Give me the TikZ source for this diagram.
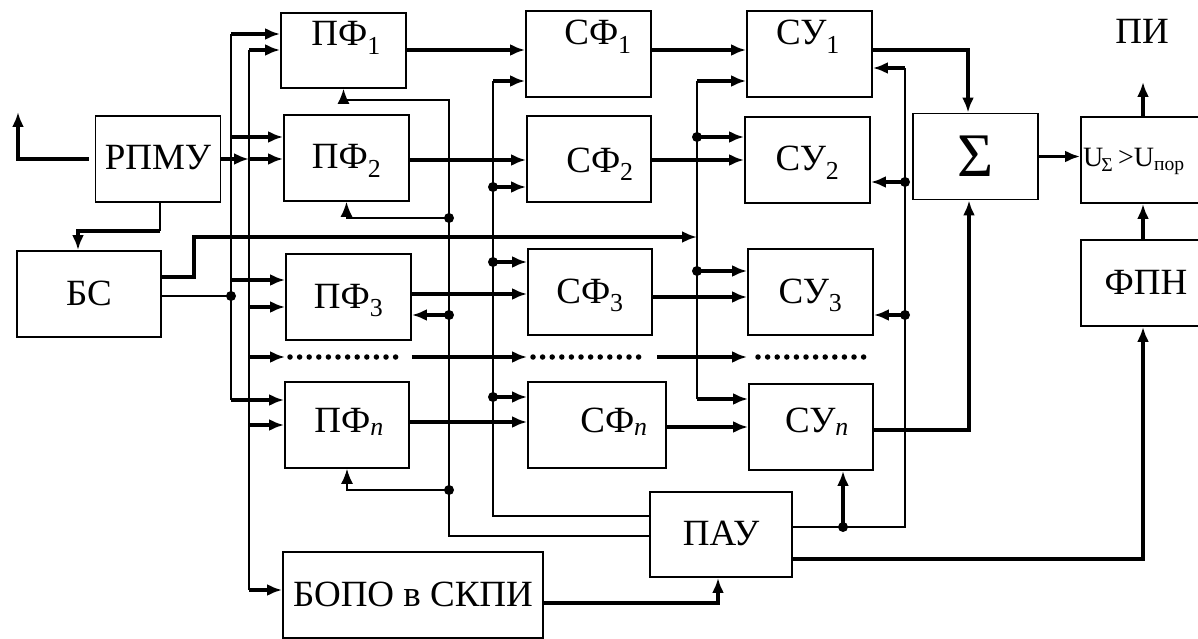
\documentclass[tikz,border=0pt]{standalone}
\usepackage{fontspec}
\setmainfont{Liberation Serif}
\usetikzlibrary{arrows.meta}

\tikzset{
  blk/.style={draw, line width=1.9pt, minimum width=#1, minimum height=86pt, inner sep=0pt},
  blk/.default=125pt,
  sig/.style={line width=1.4pt},
  pwr/.style={line width=3.2pt},
  dots/.style={line width=5.5pt, line cap=round, dash pattern=on 0pt off 9.6pt},
}

\begin{document}
\begin{tikzpicture}[x=1pt, y=-1pt, >={Latex[length=15pt,width=12pt]},
    font=\fontsize{37}{40}\selectfont,
    every node/.append style={text height=22pt, text depth=0pt}]
  \useasboundingbox (0,0) rectangle (1198,639);
  \clip (0,0) rectangle (1198,639);

  % blocks
  \node[blk] (rpmu) at (158,159) {РПМУ};
  \node[blk=144pt] (bs) at (89,294) {БС};
  \node[blk, minimum height=75pt] (pf1) at (343.5,50.5) {};
  \node (pf1t) at (346,35) {ПФ\textsubscript{1}};
  \node[blk] (pf2) at (346.5,158) {ПФ\textsubscript{2}};
  \node[blk] (pf3) at (348.5,297) {ПФ\textsubscript{3}};
  \node[blk=124pt] (pfn) at (347,425) {};
  \node (pfnt) at (349,421) {ПФ\textsubscript{\itshape n}};
  \node[blk] (sf1) at (588.5,54) {};
  \node (sf1t) at (598,34) {СФ\textsubscript{1}};
  \node[blk=124pt] (sf2) at (589,159) {};
  \node (sf2t) at (600,161) {СФ\textsubscript{2}};
  \node[blk=124pt] (sf3) at (590,292) {СФ\textsubscript{3}};
  \node[blk=138pt] (sfn) at (597,425) {};
  \node (sfnt) at (614,421) {СФ\textsubscript{\itshape n}};
  \node[blk] (su1) at (809.5,54) {};
  \node (su1t) at (808,34) {СУ\textsubscript{1}};
  \node[blk] (su2) at (807.5,160) {СУ\textsubscript{2}};
  \node[blk] (su3) at (810.5,292) {СУ\textsubscript{3}};
  \node[blk=124pt] (sun) at (811,427) {};
  \node (sunt) at (817,421) {СУ\textsubscript{\itshape n}};
  \node[blk, font=\fontsize{62}{62}\selectfont, text height=41pt] (sum) at (975.5,156.5) {Σ};
  \node[blk=130pt] (thr) at (1146,160) {};
  \node[anchor=west, inner sep=0pt, text height=18pt, font=\fontsize{28}{30}\selectfont]
    (thrt) at (1083,158) {U\textsubscript{\kern-2pt Σ}\,>U\textsubscript{пор}};
  \node[blk=130pt] (fpn) at (1146,283) {ФПН};
  \node[blk=142pt, minimum height=85pt] (pau) at (721,534.5) {ПАУ};
  \node[blk=260pt] (bopo) at (413,595) {БОПО в СКПИ};
  \node (pi) at (1142,33) {ПИ};

  % antenna, receiver and sync block
  \draw[pwr,->] ([xshift=-6pt]rpmu.west) -| (18,112);
  \draw[sig] (rpmu.south -| 160,0) -- (160,231);
  \draw[pwr,->] (160,231) -| (bs.north -| 78,0);
  \draw[pwr,->] (rpmu.east) -- (249,159);
  \draw[sig] (bs.east |- 0,296) -- (231,296);
  \fill (231,296) circle (5pt);
  \draw[pwr,->] (bs.east |- 0,277) -| (194,237) -- (697,237);

  % input buses
  \draw[sig] (231,34) -- (231,400);
  \draw[sig] (249,50) -- (249,590);
  \foreach \y/\b in {34/pf1, 137/pf2, 280/pf3, 400/pfn}
    \draw[pwr,->] (231,\y) -- (\b.west |- 0,\y);
  \foreach \y/\b in {50/pf1, 159/pf2, 307/pf3, 425/pfn, 590/bopo}
    \draw[pwr,->] (249,\y) -- (\b.west |- 0,\y);

  % channels
  \foreach \a/\b/\y in {pf1/sf1/50, pf2/sf2/160, pf3/sf3/294, pfn/sfn/422,
      sf1/su1/50, sf2/su2/160, sf3/su3/297, sfn/sun/427}
    \draw[pwr,->] (\a.east |- 0,\y) -- (\b.west |- 0,\y);

  % dotted row
  \draw[pwr,->] (249,357) -- (pf3.west |- 0,357);
  \draw[dots] (290,357) -- (405,357);
  \draw[pwr,->] (pf3.east |- 0,357) -- (sf3.west |- 0,357);
  \draw[dots] (533,357) -- (648,357);
  \draw[pwr,->] (657,357) -- (su3.west |- 0,357);
  \draw[dots] (758,357) -- (871,357);

  % control from ПАУ to the preselectors
  \draw[sig,->] (pau.west |- 0,536) -| (449,100) -| (pf1.south);
  \fill (449,218) circle (5pt);
  \draw[sig,->] (449,218) -| (pf2.south);
  \fill (449,315) circle (5pt);
  \draw[pwr,->] (449,315) -- (pf3.east |- 0,315);
  \fill (449,490) circle (5pt);
  \draw[sig,->] (449,490) -| (pfn.south);

  % control from ПАУ to the filters
  \draw[sig] (pau.west |- 0,516) -| (493,81);
  \draw[pwr,->] (493,81) -- (sf1.west |- 0,81);
  \foreach \y/\b in {187/sf2, 262/sf3, 397/sfn} {
    \fill (493,\y) circle (5pt);
    \draw[pwr,->] (493,\y) -- (\b.west |- 0,\y);
  }

  % sync bus to the amplifiers
  \draw[sig] (697,81) -- (697,399);
  \draw[pwr,->] (697,81) -- (su1.west |- 0,81);
  \draw[pwr,->] (697,399) -- (sun.west |- 0,399);
  \foreach \y/\b in {137/su2, 271/su3} {
    \fill (697,\y) circle (5pt);
    \draw[pwr,->] (697,\y) -- (\b.west |- 0,\y);
  }

  % gain control of the amplifiers
  \draw[sig] (pau.east |- 0,527) -| (905,68);
  \draw[pwr,->] (905,68) -- (su1.east |- 0,68);
  \foreach \y/\b in {182/su2, 315/su3} {
    \fill (905,\y) circle (5pt);
    \draw[pwr,->] (905,\y) -- (\b.east |- 0,\y);
  }
  \fill (843,527) circle (5pt);
  \draw[pwr,->] (843,527) -- (sun.south -| 843,0);

  % adder and threshold
  \draw[pwr,->] (su1.east |- 0,50) -| (sum.north -| 968,0);
  \draw[pwr,->] (sun.east |- 0,430) -| (sum.south -| 969,0);
  \draw[pwr,->] (sum.east) -- (thr.west |- sum.east);
  \draw[pwr,->] (fpn.north -| 1143,0) -- (thr.south -| 1143,0);
  \draw[pwr,->] (thr.north -| 1143,0) -- (1143,82);
  \draw[pwr,->] (pau.east |- 0,559) -| (fpn.south -| 1143,0);
  \draw[pwr,->] (bopo.east |- 0,603) -| (pau.south -| 718,0);
\end{tikzpicture}
\end{document}
